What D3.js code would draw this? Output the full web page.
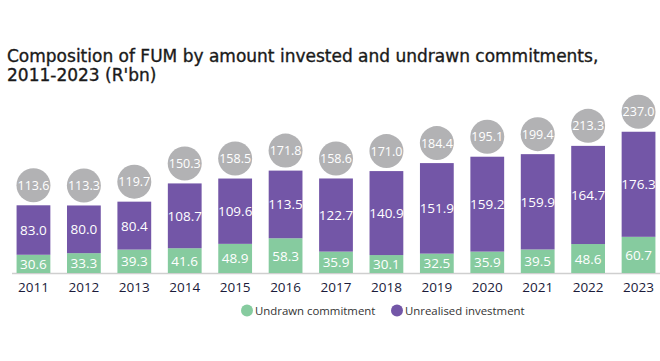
<!DOCTYPE html>
<html>
<head>
<meta charset="utf-8">
<script src="https://cdn.jsdelivr.net/npm/d3@7.9.0/dist/d3.min.js"></script>
<style>
  body { margin: 0; background: #fff; }
  svg { display: block; font-family: "Open Sans", sans-serif; }
</style>
</head>
<body>
<svg id="chart" width="660" height="361"></svg>
<script>
const years = ["2011","2012","2013","2014","2015","2016","2017","2018","2019","2020","2021","2022","2023"];
const undrawn = [30.6, 33.3, 39.3, 41.6, 48.9, 58.3, 35.9, 30.1, 32.5, 35.9, 39.5, 48.6, 60.7];
const unrealised = [83.0, 80.0, 80.4, 108.7, 109.6, 113.5, 122.7, 140.9, 151.9, 159.2, 159.9, 164.7, 176.3];
const totals = [113.6, 113.3, 119.7, 150.3, 158.5, 171.8, 158.6, 171.0, 184.4, 195.1, 199.4, 213.3, 237.0];
const seriesNames = ["Undrawn commitment", "Unrealised investment"];

const colors = { green: "#86cb9f", purple: "#7356a7", grey: "#b2b2b4" };

const svg = d3.select("#chart");

// title
const title = svg.append("text").attr("x", 7).attr("fill", "#1a1a1a")
  .attr("stroke", "#1a1a1a").attr("stroke-width", 0.35)
  .style("font-family", "DejaVu Sans, sans-serif")
  .style("font-size", "17px");
title.append("tspan").attr("x", 7).attr("y", 62)
  .text("Composition of FUM by amount invested and undrawn commitments,");
title.append("tspan").attr("x", 7).attr("y", 81).text("2011-2023 (R'bn)");

const rows = years.map((y, i) => ({ year: y, undrawn: undrawn[i], unrealised: unrealised[i], total: totals[i] }));

const x = d3.scaleBand().domain(years).range([8, 664]).paddingInner(0.33).paddingOuter(0.17);
const y = d3.scaleLinear().domain([0, 250]).range([273, 124]);

const stack = d3.stack().keys(["undrawn", "unrealised"])(rows);
const fills = [colors.green, colors.purple];

// baseline
svg.append("line").attr("x1", 12).attr("x2", 660).attr("y1", y(0) + 0.5).attr("y2", y(0) + 0.5)
  .attr("stroke", "#cfcfcf").attr("stroke-width", 1.5);

stack.forEach((layer, li) => {
  const g = svg.append("g");
  g.selectAll("rect").data(layer).join("rect")
    .attr("x", d => x(d.data.year))
    .attr("width", x.bandwidth())
    .attr("y", d => y(d[1]))
    .attr("height", d => y(d[0]) - y(d[1]))
    .attr("fill", fills[li]);
  g.selectAll("text").data(layer).join("text")
    .attr("x", d => x(d.data.year) + x.bandwidth() / 2)
    .attr("y", d => (y(d[0]) + y(d[1])) / 2 + 5)
    .attr("text-anchor", "middle")
    .attr("fill", "#fff")
    .style("font-size", "13.5px")
    .text(d => (d[1] - d[0]).toFixed(1));
});

// total bubbles
const tot = svg.append("g");
tot.selectAll("circle").data(rows).join("circle")
  .attr("cx", d => x(d.year) + x.bandwidth() / 2)
  .attr("cy", d => y(d.total) - 20)
  .attr("r", 17)
  .attr("fill", colors.grey);
tot.selectAll("text").data(rows).join("text")
  .attr("x", d => x(d.year) + x.bandwidth() / 2)
  .attr("y", d => y(d.total) - 20 + 4.5)
  .attr("text-anchor", "middle")
  .attr("fill", "#fff")
  .style("font-size", "12.5px")
  .text(d => d.total.toFixed(1));

// x axis labels
const xAxis = d3.axisBottom(x).tickSize(0).tickPadding(9);
const ax = svg.append("g").attr("transform", `translate(0, ${y(0)})`).call(xAxis);
ax.select(".domain").remove();
ax.selectAll("text").attr("fill", "#1b1b3a").style("font-size", "13.5px")
  .style("font-family", "Open Sans, sans-serif");

// legend
const legend = svg.append("g");
const legX = [247, 397];
seriesNames.forEach((name, i) => {
  legend.append("circle").attr("cx", legX[i]).attr("cy", 310.5).attr("r", 6).attr("fill", fills[i]);
  legend.append("text").attr("x", legX[i] + 8).attr("y", 314.5)
    .attr("fill", "#333").style("font-size", "11.4px").text(name);
});
</script>
</body>
</html>
